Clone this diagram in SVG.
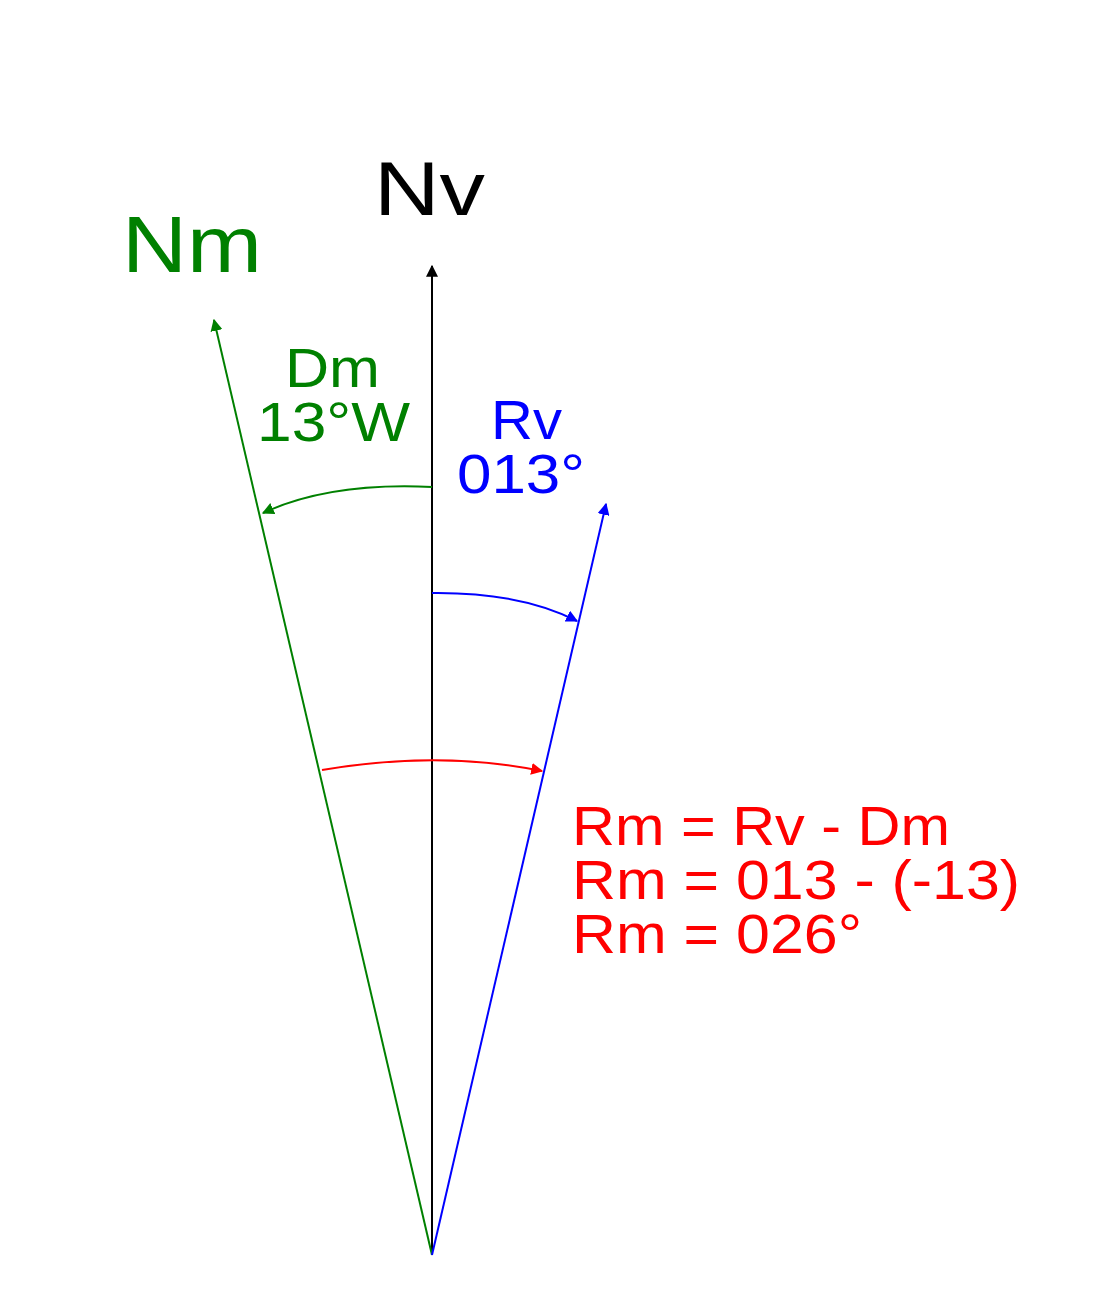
<svg xmlns="http://www.w3.org/2000/svg" width="1103" height="1312" viewBox="0 0 1103 1312">
<style>
text{font-family:"Liberation Sans",Arial,sans-serif}
.l{fill:none;stroke-width:2}
</style>
<defs>
<marker id="ak" viewBox="0 0 10 10" refX="9" refY="5" markerWidth="6" markerHeight="6" orient="auto"><path d="M0,0L10,5L0,10z" fill="#000"/></marker>
<marker id="ag" viewBox="0 0 10 10" refX="9" refY="5" markerWidth="6" markerHeight="6" orient="auto"><path d="M0,0L10,5L0,10z" fill="#008000"/></marker>
<marker id="ab" viewBox="0 0 10 10" refX="9" refY="5" markerWidth="6" markerHeight="6" orient="auto"><path d="M0,0L10,5L0,10z" fill="#0000ff"/></marker>
<marker id="ar" viewBox="0 0 10 10" refX="9" refY="5" markerWidth="6" markerHeight="6" orient="auto"><path d="M0,0L10,5L0,10z" fill="#ff0000"/></marker>
</defs>
<rect width="1103" height="1312" fill="#fff"/>
<g id="connectors">
<line class="l" x1="432" y1="1255" x2="432" y2="266" stroke="#000" marker-end="url(#ak)"/>
<line class="l" x1="432" y1="1255" x2="214" y2="320" stroke="#008000" marker-end="url(#ag)"/>
<line class="l" x1="432" y1="1255" x2="606" y2="504" stroke="#0000ff" marker-end="url(#ab)"/>
<path class="l" d="M432,487 Q330,482 263,513" stroke="#008000" marker-end="url(#ag)"/>
<path class="l" d="M432,593 Q520,592 577,621" stroke="#0000ff" marker-end="url(#ab)"/>
<path class="l" d="M322,770 Q440,750 542,771" stroke="#ff0000" marker-end="url(#ar)"/>
</g>
<g id="Nv"><text x="374" y="215" font-size="76" fill="#000" textLength="111" lengthAdjust="spacingAndGlyphs">Nv</text></g>
<g id="Nm"><text x="122" y="272" font-size="80" fill="#008000" textLength="140" lengthAdjust="spacingAndGlyphs">Nm</text></g>
<g id="Dm"><text x="285" y="387" font-size="56" fill="#008000" textLength="95" lengthAdjust="spacingAndGlyphs">Dm</text><text x="257" y="441" font-size="56" fill="#008000" textLength="153" lengthAdjust="spacingAndGlyphs">13°W</text></g>
<g id="Rv"><text x="491" y="439" font-size="56" fill="#0000ff" textLength="71" lengthAdjust="spacingAndGlyphs">Rv</text><text x="457" y="493" font-size="56" fill="#0000ff" textLength="128" lengthAdjust="spacingAndGlyphs">013°</text></g>
<g id="Rm" fill="#ff0000" font-size="56">
<text x="572" y="845" textLength="378" lengthAdjust="spacingAndGlyphs">Rm = Rv - Dm</text>
<text x="572" y="899" textLength="448" lengthAdjust="spacingAndGlyphs">Rm = 013 - (-13)</text>
<text x="572" y="953" textLength="290" lengthAdjust="spacingAndGlyphs">Rm = 026°</text>
</g>
</svg>
